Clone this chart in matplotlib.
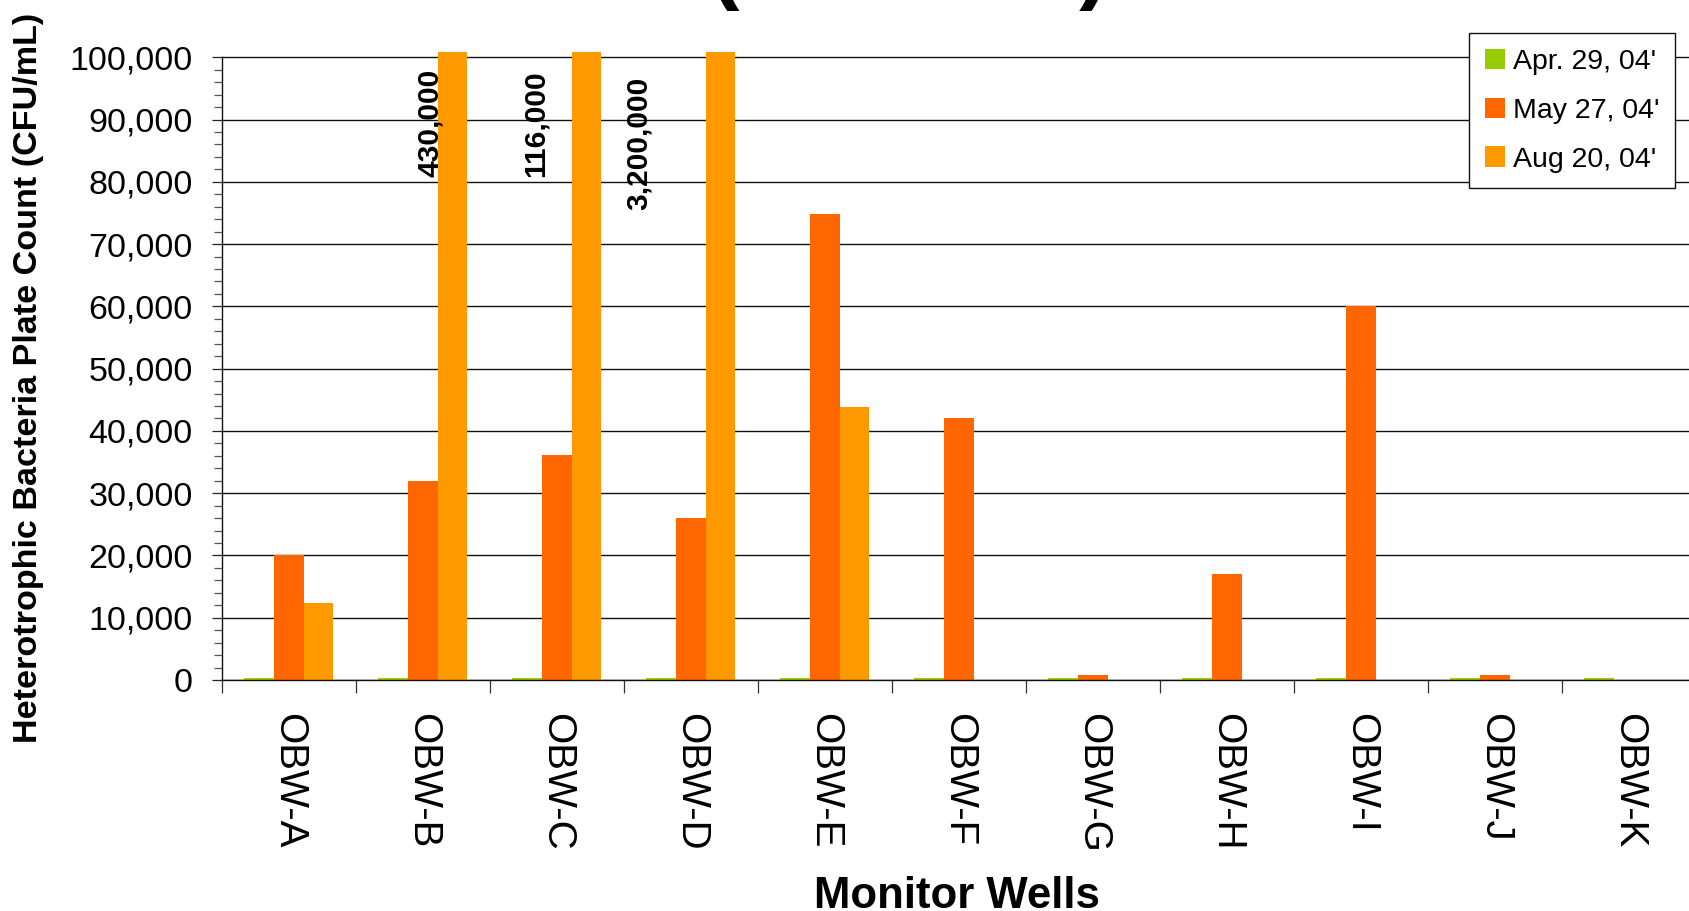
import matplotlib
matplotlib.use("Agg")
import matplotlib.pyplot as plt
from matplotlib.ticker import FixedLocator, MultipleLocator, FuncFormatter
import numpy as np

plt.rcParams['font.family'] = ['Liberation Sans', 'DejaVu Sans']

# Heterotrophic plate counts (CFU/mL) per monitor well and sampling date
wells = ['OBW-A', 'OBW-B', 'OBW-C', 'OBW-D', 'OBW-E', 'OBW-F',
         'OBW-G', 'OBW-H', 'OBW-I', 'OBW-J', 'OBW-K']
series_names = ["Apr. 29, 04'", "May 27, 04'", "Aug 20, 04'"]
apr_29 = [350, 350, 350, 350, 350, 350, 350, 350, 350, 350, 350]
may_27 = [20000, 32000, 36200, 26000, 74800, 42100, 800, 17000, 60000, 800, 0]
aug_20 = [12300, 430000, 116000, 3200000, 43900, 0, 0, 0, 0, 0, 0]
colors = ['#99CC00', '#FF6600', '#FF9900']

# off-scale values are written next to their clipped bars
offscale_wells = ['OBW-B', 'OBW-C', 'OBW-D']
offscale_x_shift = [0.054, -0.155, -0.386]
offscale_text_base = [80800, 80800, 75500]

W_PX, H_PX = 1690, 911
fig = plt.figure(figsize=(W_PX / 100, H_PX / 100), dpi=100)

left, right = 221.7, 221.7 + 11 * 134.0
top, bottom = 52.0, 680.0
y_top_line = 57.3          # pixel row of the 100,000 line
ax = fig.add_axes([left / W_PX, 1 - bottom / H_PX,
                   (right - left) / W_PX, (bottom - top) / H_PX])

x = np.arange(len(wells))
bw = 1.0 / 4.5
for k, (vals, name, c) in enumerate(zip([apr_29, may_27, aug_20], series_names, colors)):
    ax.bar(x + (k - 1) * bw, vals, width=bw, color=c, label=name,
           linewidth=0, zorder=2)

ymax_axis = 100000
ax.set_ylim(0, ymax_axis * (bottom - top) / (bottom - y_top_line))
ax.set_xlim(-0.5, len(wells) - 0.5)

# y axis
ax.yaxis.set_major_locator(MultipleLocator(10000))
ax.yaxis.set_minor_locator(MultipleLocator(2000))
ax.yaxis.set_major_formatter(FuncFormatter(lambda v, p: f"{v:,.0f}" if v <= ymax_axis else ""))
ax.tick_params(axis='y', which='major', length=7.2, width=0.9, color='#222222',
               labelsize=24.5, pad=13.5, direction='out')
ax.tick_params(axis='y', which='minor', length=5.8, width=0.9, color='#555555',
               direction='out')
ax.yaxis.grid(True, which='major', color='#111111', linewidth=1.0, zorder=1)
ax.set_axisbelow(True)

# x axis: labels at category centres, tick marks at category boundaries
ax.xaxis.set_major_locator(FixedLocator(x))
ax.set_xticklabels(wells)
ax.xaxis.set_minor_locator(FixedLocator(np.arange(len(wells) + 1) - 0.5))
ax.tick_params(axis='x', which='major', length=0, labelsize=29, pad=23.8,
               labelrotation=270)
ax.tick_params(axis='x', which='minor', length=9.4, width=0.9, color='#333333',
               direction='out')

for s in ['top', 'right']:
    ax.spines[s].set_visible(False)
ax.spines['left'].set_bounds(0, ymax_axis)
ax.spines['left'].set_linewidth(1.0)
ax.spines['left'].set_color('#111111')
ax.spines['bottom'].set_linewidth(1.0)
ax.spines['bottom'].set_color('#111111')

# labels for the off-scale August values
for w, dx, yb in zip(offscale_wells, offscale_x_shift, offscale_text_base):
    i = wells.index(w)
    ax.text(i + dx, yb, f"{aug_20[i]:,}", rotation=90, ha='center', va='bottom',
            fontsize=21.5, fontweight='bold', zorder=3)

# legend
leg = fig.legend(loc='upper left', bbox_to_anchor=(1469 / W_PX, 1 - 33 / H_PX),
                 borderaxespad=0, fontsize=20.5, handlelength=0.72, handleheight=0.72,
                 handletextpad=0.27, borderpad=0.55, labelspacing=0.8,
                 fancybox=False, framealpha=1, edgecolor='#111111')
leg.get_frame().set_linewidth(1.0)

# axis titles
fig.text(29 / W_PX, 1 - 378 / H_PX, 'Heterotrophic Bacteria Plate Count (CFU/mL)',
         rotation=90, ha='center', va='center', fontsize=24.6, fontweight='bold')
fig.text(957 / W_PX, 1 - 908 / H_PX, 'Monitor Wells', ha='center', va='baseline',
         fontsize=31.5, fontweight='bold')
# chart title sits mostly above the canvas
fig.text(910 / W_PX, 1 + 8 / H_PX, '(CFU/mL)', ha='center', va='baseline',
         fontsize=64, fontweight='bold')

fig.savefig('out.png', dpi=100)
